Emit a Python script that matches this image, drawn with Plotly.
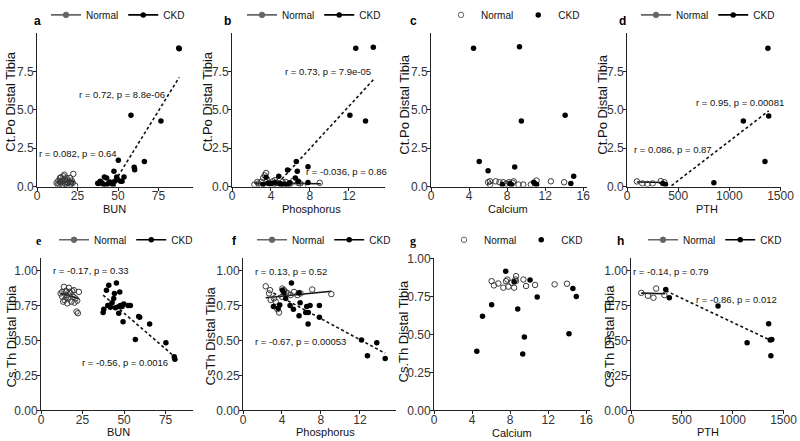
import plotly.graph_objects as go

W, H = 800, 441
FONT = "Liberation Sans, Arial, sans-serif"

# ---------------- data ----------------
# a: BUN vs Ct.Po Distal Tibia
a_norm_x = [12.1, 13.2, 14.2, 15.2, 16.3, 17.3, 18.3, 19.3, 20.4, 21.4, 22.4, 23.5, 13.8, 15.8,
            17.9, 20.0, 14.8, 16.9, 12.8, 15.2, 17.3, 18.9, 21.0, 22.0, 14.2, 16.3, 18.3, 20.4]
a_norm_y = [0.24, 0.39, 0.56, 0.34, 0.67, 0.45, 0.13, 0.24, 0.56, 0.39, 0.82, 0.06, 0.13, 0.13,
            0.30, 0.02, 0.60, 0.77, 0.13, 0.06, 0.17, 0.39, 0.17, 0.24, 0.30, 0.41, 0.56, 0.30]
a_ckd_x = [87.5, 87.8, 58.0, 76.5, 66.3, 60.0, 60.3, 50.2, 47.5, 49.2, 52.5, 53.7, 49.6, 41.6,
           43.0, 39.0, 38.0, 40.0, 45.0, 46.5, 47.0, 42.6, 44.0, 48.0, 51.6, 37.5, 41.0]
a_ckd_y = [9.05, 9.00, 4.65, 4.28, 1.63, 1.25, 1.10, 1.72, 1.00, 0.62, 0.34, 0.62, 0.45, 0.62,
           0.56, 0.34, 0.19, 0.24, 0.30, 0.20, 0.06, 0.06, 0.19, 0.34, 0.34, 0.22, 0.15]
a_fit_norm_x = [12.1, 23.5]
a_fit_norm_y = [0.28, 0.33]
a_fit_ckd_x = [37.5, 87.8]
a_fit_ckd_y = [-1.47, 7.13]

# b: Phosphorus vs Ct.Po Distal Tibia
b_norm_x = [3.5, 3.35, 3.2, 2.3, 2.7, 3.0, 9.0, 7.3, 4.2, 4.6, 5.0, 5.5, 6.0, 6.3, 4.0, 3.8,
            2.6, 5.8, 6.8, 4.4, 3.0, 5.2, 7.0, 3.6]
b_norm_y = [0.88, 0.73, 0.56, 0.13, 0.19, 0.30, 0.24, 0.06, 0.34, 0.24, 0.13, 0.30, 0.19, 0.39,
            0.13, 0.24, 0.30, 0.06, 0.24, 0.41, 0.10, 0.30, 0.20, 0.45]
b_ckd_x = [12.7, 14.5, 12.1, 13.7, 6.6, 7.8, 5.7, 6.7, 4.8, 3.5, 6.5, 7.8, 6.8, 5.9, 4.9, 5.1,
           4.0, 3.2, 3.7, 5.4, 5.7, 4.4]
b_ckd_y = [9.03, 9.10, 4.65, 4.28, 1.63, 1.29, 1.08, 0.99, 0.67, 0.60, 0.56, 0.26, 0.34, 0.24,
           0.19, 0.13, 0.19, 0.13, 0.22, 0.17, 0.12, 0.26]
b_fit_norm_x = [2.3, 9.1]
b_fit_norm_y = [0.22, 0.18]
b_fit_ckd_x = [3.2, 14.5]
b_fit_ckd_y = [-0.83, 6.97]

# c: Calcium vs Ct.Po Distal Tibia
c_norm_x = [6.0, 6.2, 6.8, 7.2, 7.9, 8.2, 8.6, 9.2, 9.7, 10.5, 11.1, 12.6, 14.0, 6.2, 7.6, 8.7]
c_norm_y = [0.28, 0.34, 0.34, 0.28, 0.19, 0.28, 0.24, 0.13, 0.13, 0.13, 0.39, 0.34, 0.28, 0.13,
            0.28, 0.34]
c_ckd_x = [4.47, 9.3, 9.5, 14.1, 5.07, 6.0, 8.8, 15.0, 14.7, 10.8, 10.9, 11.1, 7.5, 8.3, 8.45]
c_ckd_y = [9.03, 9.12, 4.28, 4.65, 1.63, 1.03, 1.27, 0.67, 0.19, 0.28, 0.19, 0.13, 0.13, 0.19,
           0.13]

# d: PTH vs Ct.Po Distal Tibia
d_norm_x = [97, 150, 200, 250, 330, 365]
d_norm_y = [0.33, 0.20, 0.17, 0.20, 0.35, 0.28]
d_ckd_x = [1377, 1385, 1137, 1348, 849, 376, 350]
d_ckd_y = [9.03, 4.60, 4.28, 1.63, 0.24, 0.13, 0.19]
d_fit_norm_x = [97, 365]
d_fit_norm_y = [0.29, 0.26]
d_fit_ckd_x = [350, 1385]
d_fit_ckd_y = [-0.38, 4.94]

# e: BUN vs Cs.Th Distal Tibia
e_norm_x = [13.8, 16.8, 19.8, 22.8, 21.4, 22.2, 11.8, 12.8, 14.2, 15.4, 16.4, 17.8, 18.2, 19.4,
            20.2, 15.0, 17.2, 13.4, 15.8, 20.8, 18.8, 21.8, 12.8, 15.2]
e_norm_y = [0.885, 0.878, 0.861, 0.849, 0.708, 0.696, 0.838, 0.814, 0.791, 0.826, 0.802, 0.838,
            0.779, 0.814, 0.772, 0.856, 0.849, 0.779, 0.767, 0.802, 0.854, 0.786, 0.849, 0.809]
e_ckd_x = [80.2, 80.6, 75.2, 65.4, 56.8, 58.8, 59.4, 49.4, 45.4, 40.8, 39.4, 47.4, 44.2, 43.8,
           42.8, 40.2, 41.8, 37.8, 37.4, 40.8, 46.8, 47.8, 49.8, 52.4, 53.8, 48.8, 46.8, 44.8]
e_ckd_y = [0.384, 0.367, 0.485, 0.619, 0.508, 0.673, 0.668, 0.635, 0.913, 0.896, 0.861, 0.849,
           0.838, 0.802, 0.772, 0.751, 0.739, 0.725, 0.701, 0.751, 0.744, 0.751, 0.762, 0.751,
           0.751, 0.744, 0.696, 0.736]
e_fit_norm_x = [11.8, 22.8]
e_fit_norm_y = [0.840, 0.800]
e_fit_ckd_x = [37.4, 80.6]
e_fit_ckd_y = [0.826, 0.383]

# f: Phosphorus vs CsTh Distal Tibia
f_norm_x = [2.33, 2.77, 2.67, 3.18, 3.36, 3.53, 3.70, 4.04, 4.20, 4.38, 4.60, 4.90, 5.24, 5.58,
            5.90, 7.10, 9.07, 2.84, 4.0]
f_norm_y = [0.889, 0.861, 0.838, 0.802, 0.779, 0.725, 0.701, 0.873, 0.861, 0.849, 0.838, 0.826,
            0.849, 0.826, 0.838, 0.866, 0.833, 0.791, 0.814]
f_ckd_x = [4.97, 3.12, 3.60, 3.77, 4.04, 4.20, 4.38, 4.83, 5.17, 5.75, 5.86, 5.75, 6.44, 6.54,
           6.68, 6.88, 6.70, 7.84, 7.84, 12.16, 12.77, 13.73, 14.59]
f_ckd_y = [0.913, 0.744, 0.732, 0.755, 0.861, 0.842, 0.802, 0.751, 0.725, 0.678, 0.772, 0.842,
           0.701, 0.744, 0.619, 0.751, 0.701, 0.751, 0.668, 0.504, 0.391, 0.485, 0.372]
f_fit_norm_x = [2.33, 9.07]
f_fit_norm_y = [0.807, 0.854]
f_fit_ckd_x = [3.12, 14.59]
f_fit_ckd_y = [0.841, 0.409]

# g: Calcium vs Cs.Th Distal Tibia
g_norm_x = [6.06, 6.30, 6.76, 7.29, 7.57, 7.71, 7.82, 8.17, 8.42, 8.56, 8.63, 8.60, 9.40, 9.68,
            10.63, 12.68, 13.98]
g_norm_y = [0.853, 0.825, 0.838, 0.810, 0.853, 0.864, 0.817, 0.843, 0.810, 0.864, 0.886, 0.853,
            0.864, 0.821, 0.828, 0.832, 0.836]
g_ckd_x = [7.54, 8.42, 10.1, 14.6, 14.96, 10.85, 6.06, 5.10, 8.80, 9.50, 9.33, 4.50, 14.19]
g_ckd_y = [0.918, 0.849, 0.860, 0.804, 0.752, 0.748, 0.698, 0.621, 0.670, 0.485, 0.373, 0.390,
           0.506]

# h: PTH vs Cs.Th Distal Tibia
h_norm_x = [101, 166, 221, 247, 329]
h_norm_y = [0.842, 0.821, 0.807, 0.873, 0.826]
h_ckd_x = [342, 377, 856, 1142, 1354, 1370, 1385, 1376]
h_ckd_y = [0.866, 0.807, 0.748, 0.485, 0.621, 0.504, 0.508, 0.391]
h_fit_norm_x = [101, 335]
h_fit_norm_y = [0.840, 0.836]
h_fit_ckd_x = [342, 1385]
h_fit_ckd_y = [0.857, 0.498]

# tick values / labels
ctpo_ticks = [0, 2.5, 5.0, 7.5]
csth_ticks = [0, 0.25, 0.50, 0.75, 1.00]
bun_ticks = [0, 25, 50, 75]
mineral_ticks = [0, 4, 8, 12, 16]
pth_ticks = [0, 500, 1000, 1500]

# ---------------- panel specs ----------------
panels = [
    dict(k="a", nx=a_norm_x, ny=a_norm_y, cx=a_ckd_x, cy=a_ckd_y,
         fn=(a_fit_norm_x, a_fit_norm_y), fc=(a_fit_ckd_x, a_fit_ckd_y),
         xr=[0, 96.3], yr=[0, 10.05], xt=bun_ticks, yt=ctpo_ticks, yfmt=".1f",
         dom=(37, 193, 27, 183), xtitle="BUN", ytitle="Ct.Po Distal Tibia",
         stats=[("r = 0.082, p = 0.64", 25.0, 2.17), ("r = 0.72, p = 8.8e-06", 52.3, 5.98)],
         lab=(37, 15), leg=(118, 9), xtpos=(115, 206), ytpos=(11, 97), serif=False),
    dict(k="b", nx=b_norm_x, ny=b_norm_y, cx=b_ckd_x, cy=b_ckd_y,
         fn=(b_fit_norm_x, b_fit_norm_y), fc=(b_fit_ckd_x, b_fit_ckd_y),
         xr=[0, 15.7], yr=[0, 10.05], xt=mineral_ticks, yt=ctpo_ticks, yfmt=".1f",
         dom=(232, 385, 27, 183), xtitle="Phosphorus", ytitle="Ct.Po Distal Tibia",
         stats=[("r = 0.73, p = 7.9e-05", 9.8, 7.5), ("r = -0.036, p = 0.86", 11.7, 0.99)],
         lab=(227, 15), leg=(314, 9), xtpos=(311, 206), ytpos=(208, 97), serif=False),
    dict(k="c", nx=c_norm_x, ny=c_norm_y, cx=c_ckd_x, cy=c_ckd_y,
         fn=None, fc=None,
         xr=[0, 16.4], yr=[0, 10.05], xt=mineral_ticks, yt=ctpo_ticks, yfmt=".1f",
         dom=(431, 587, 27, 183), xtitle="Calcium", ytitle="Ct.Po Distal Tibia",
         stats=[], lab=(413, 15), leg=(513, 9), xtpos=(508, 206), ytpos=(405, 100), serif=False),
    dict(k="d", nx=d_norm_x, ny=d_norm_y, cx=d_ckd_x, cy=d_ckd_y,
         fn=(d_fit_norm_x, d_fit_norm_y), fc=(d_fit_ckd_x, d_fit_ckd_y),
         xr=[0, 1505], yr=[0, 10.05], xt=pth_ticks, yt=ctpo_ticks, yfmt=".1f",
         dom=(627, 781, 27, 183), xtitle="PTH", ytitle="Ct.Po Distal Tibia",
         stats=[("r = 0.95, p = 0.00081", 1104, 5.46), ("r = 0.086, p = 0.87", 454, 2.43)],
         lab=(622, 15), leg=(708, 9), xtpos=(707, 206), ytpos=(603, 100), serif=False),
    dict(k="e", nx=e_norm_x, ny=e_norm_y, cx=e_ckd_x, cy=e_ckd_y,
         fn=(e_fit_norm_x, e_fit_norm_y), fc=(e_fit_ckd_x, e_fit_ckd_y),
         xr=[0, 91.5], yr=[0, 1.095], xt=bun_ticks, yt=csth_ticks, yfmt=".2f",
         dom=(41, 193, 255, 410), xtitle="BUN", ytitle="Cs.Th Distal Tibia",
         stats=[("r = -0.17, p = 0.33", 30.0, 1.0), ("r = -0.56, p = 0.0016", 50.8, 0.344)],
         lab=(39, 238), leg=(126, 237), xtpos=(118, 432), ytpos=(11, 335), serif=True),
    dict(k="f", nx=f_norm_x, ny=f_norm_y, cx=f_ckd_x, cy=f_ckd_y,
         fn=(f_fit_norm_x, f_fit_norm_y), fc=(f_fit_ckd_x, f_fit_ckd_y),
         xr=[0, 15.7], yr=[0, 1.095], xt=mineral_ticks, yt=csth_ticks, yfmt=".2f",
         dom=(243, 396, 255, 410), xtitle="Phosphorus", ytitle="CsTh Distal Tibia",
         stats=[("r = 0.13, p = 0.52", 4.9, 0.995), ("r = -0.67, p = 0.00053", 5.92, 0.496)],
         lab=(234, 238), leg=(324, 237), xtpos=(325, 432), ytpos=(210, 335), serif=False),
    dict(k="g", nx=g_norm_x, ny=g_norm_y, cx=g_ckd_x, cy=g_ckd_y,
         fn=None, fc=None,
         xr=[0, 16.4], yr=[0, 1.009], xt=mineral_ticks, yt=csth_ticks, yfmt=".2f",
         dom=(434, 590, 255, 410), xtitle="Calcium", ytitle="Cs.Th Distal Tibia",
         stats=[], lab=(413, 238), leg=(516, 237), xtpos=(512, 433), ytpos=(404, 330), serif=True),
    dict(k="h", nx=h_norm_x, ny=h_norm_y, cx=h_ckd_x, cy=h_ckd_y,
         fn=(h_fit_norm_x, h_fit_norm_y), fc=(h_fit_ckd_x, h_fit_ckd_y),
         xr=[0, 1505], yr=[0, 1.095], xt=pth_ticks, yt=csth_ticks, yfmt=".2f",
         dom=(631, 784, 255, 410), xtitle="PTH", ytitle="Cs.Th Distal Tibia",
         stats=[("r = -0.14, p = 0.79", 390, 0.995), ("r = -0.86, p = 0.012", 1035, 0.795)],
         lab=(620, 238), leg=(715, 237), xtpos=(708, 432), ytpos=(609, 335), serif=False),
]

NORM_COLOR = "#3a3a3a"
CKD_COLOR = "#000000"
MSIZE = 5.5

fig = go.Figure()
layout = dict(
    width=W, height=H, margin=dict(l=0, r=0, t=0, b=0),
    paper_bgcolor="white", plot_bgcolor="white", template="none",
    font=dict(family=FONT, color="#111"), showlegend=True,
)
annotations = []

for i, p in enumerate(panels):
    n = i + 1
    xa = "x" if n == 1 else f"x{n}"
    ya = "y" if n == 1 else f"y{n}"
    leg = "legend" if n == 1 else f"legend{n}"
    x0, x1, yt, yb = p["dom"]
    axis_common = dict(showgrid=False, zeroline=False, showline=True, linecolor="#222",
                       linewidth=1, ticks="outside", ticklen=3, tickwidth=1, tickcolor="#222",
                       tickfont=dict(size=12, color="#333", family=FONT), automargin=False)
    layout["xaxis" if n == 1 else f"xaxis{n}"] = dict(
        domain=[x0 / W, x1 / W], range=p["xr"], anchor=ya, tickvals=p["xt"],
        ticklabelstandoff=-5, **axis_common)
    layout["yaxis" if n == 1 else f"yaxis{n}"] = dict(
        domain=[1 - yb / H, 1 - yt / H], range=p["yr"], anchor=xa, tickvals=p["yt"],
        tickformat=p["yfmt"], ticklabelstandoff=-3, **axis_common)

    has_fit = p["fn"] is not None
    # fitted lines
    if has_fit:
        fig.add_trace(go.Scatter(x=p["fn"][0], y=p["fn"][1], mode="lines", xaxis=xa, yaxis=ya,
                                 line=dict(color="#111", width=1.6), showlegend=False,
                                 hoverinfo="skip"))
        fig.add_trace(go.Scatter(x=p["fc"][0], y=p["fc"][1], mode="lines", xaxis=xa, yaxis=ya,
                                 line=dict(color="#111", width=1.6, dash="3px,2.5px"),
                                 showlegend=False, hoverinfo="skip"))
    # points
    fig.add_trace(go.Scatter(x=p["nx"], y=p["ny"], mode="markers", xaxis=xa, yaxis=ya,
                             marker=dict(symbol="circle-open", size=MSIZE, color=NORM_COLOR,
                                         line=dict(width=1, color=NORM_COLOR)),
                             showlegend=False, name="Normal"))
    fig.add_trace(go.Scatter(x=p["cx"], y=p["cy"], mode="markers", xaxis=xa, yaxis=ya,
                             marker=dict(symbol="circle", size=MSIZE, color=CKD_COLOR),
                             showlegend=False, name="CKD"))
    # legend entries
    lmode = "lines+markers" if has_fit else "markers"
    fig.add_trace(go.Scatter(x=[None], y=[None], mode=lmode, xaxis=xa, yaxis=ya, name="Normal",
                             legend=leg, line=dict(color="#666", width=1.6),
                             marker=dict(symbol="circle-open" if not has_fit else "circle",
                                         size=MSIZE, color="#666",
                                         line=dict(width=1, color="#666"))))
    fig.add_trace(go.Scatter(x=[None], y=[None], mode=lmode, xaxis=xa, yaxis=ya, name="CKD",
                             legend=leg, line=dict(color="#000", width=1.6),
                             marker=dict(symbol="circle", size=MSIZE, color="#000")))
    lx, ly = p["leg"]
    layout[leg] = dict(orientation="h", x=lx / W, y=1 - ly / H, xanchor="center",
                       yanchor="middle", font=dict(size=10, family=FONT, color="#111"),
                       bgcolor="rgba(0,0,0,0)", itemwidth=30, tracegroupgap=0,
                       itemclick=False, itemdoubleclick=False)

    # stats annotations
    for txt, sx, sy in p["stats"]:
        annotations.append(dict(text=txt, x=sx, y=sy, xref=xa, yref=ya, showarrow=False,
                                xanchor="center", yanchor="middle",
                                font=dict(size=9.5, family=FONT, color="#111")))
    # panel letter
    lab_x, lab_y = p["lab"]
    annotations.append(dict(text=f"<b>{p['k']}</b>", x=lab_x / W, y=1 - lab_y / H,
                            xref="paper", yref="paper", showarrow=False, xanchor="center",
                            yanchor="middle",
                            font=dict(size=12, color="#000",
                                      family="Liberation Serif, serif" if p["serif"] else FONT)))
    # axis titles
    tx, ty = p["xtpos"]
    annotations.append(dict(text=p["xtitle"], x=tx / W, y=1 - ty / H, xref="paper",
                            yref="paper", showarrow=False, xanchor="center", yanchor="middle",
                            font=dict(size=11, family=FONT, color="#111")))
    tx, ty = p["ytpos"]
    annotations.append(dict(text=p["ytitle"], x=tx / W, y=1 - ty / H, xref="paper",
                            yref="paper", showarrow=False, xanchor="center", yanchor="middle",
                            textangle=-90, font=dict(size=13, family=FONT, color="#111")))

layout["annotations"] = annotations
fig.update_layout(**layout)
fig.write_html("out.html", config={"displayModeBar": False},
               post_script="document.body.style.margin='0px';")
